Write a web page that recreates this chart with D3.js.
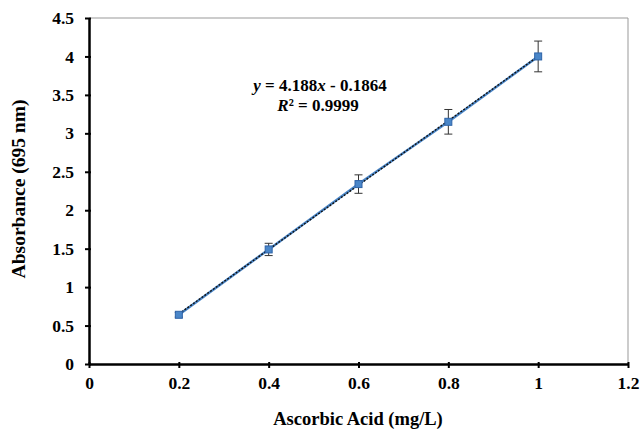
<!DOCTYPE html>
<html><head><meta charset="utf-8">
<script src="https://cdn.jsdelivr.net/npm/d3@7"></script>
<style>body{margin:0;background:#fff;}svg{display:block;font-family:"Liberation Serif","Times New Roman",serif;}</style>
</head><body>
<svg id="c" width="643" height="430"></svg>
<script>
const concentrations = [0.2, 0.4, 0.6, 0.8, 1.0];
const absorbance = [0.64, 1.49, 2.34, 3.15, 4.0];
const errors = [0.03, 0.08, 0.12, 0.16, 0.2];
const xTicks = [0, 0.2, 0.4, 0.6, 0.8, 1, 1.2];
const yTicks = [0, 0.5, 1, 1.5, 2, 2.5, 3, 3.5, 4, 4.5];
const slope = 4.188, intercept = -0.1864;

const svg = d3.select("#c");
const m = {l: 89, r: 15, t: 18, b: 66};
const W = 643, H = 430;
const x = d3.scaleLinear().domain([0, 1.2]).range([m.l, W - m.r]);
const y = d3.scaleLinear().domain([0, 4.5]).range([H - m.b, m.t]);

// border (top/right thin gray)
svg.append("path").attr("d", `M${x(0)},${y(4.5)}H${x(1.2)}V${y(0)}`)
  .attr("fill", "none").attr("stroke", "#999").attr("stroke-width", 1);

const fmt = d => String(d);
const xa = svg.append("g").attr("transform", `translate(0,${y(0)})`)
  .call(d3.axisBottom(x).tickValues(xTicks).tickFormat(fmt).tickSize(4).tickSizeOuter(0));
const ya = svg.append("g").attr("transform", `translate(${x(0)},0)`)
  .call(d3.axisLeft(y).tickValues(yTicks).tickFormat(fmt).tickSize(4).tickSizeOuter(0));
[xa, ya].forEach(a => {
  a.select(".domain").attr("stroke", "#000").attr("stroke-width", 2.5);
  a.selectAll(".tick line").attr("stroke", "#000").attr("stroke-width", 2);
  a.selectAll(".tick text").attr("fill", "#000").style("font-size", "17.5px")
    .style("font-weight", "bold").style("font-family", "Liberation Serif, serif");
});
xa.selectAll(".tick line").attr("y1", -2).attr("y2", 4);
xa.selectAll(".tick text").attr("dy", "1.05em");
ya.selectAll(".tick line").attr("x1", 2);
ya.selectAll(".tick text").attr("x", -15);

// data line
const pts = concentrations.map((c, i) => [c, absorbance[i], errors[i]]);
svg.append("path").datum(pts)
  .attr("d", d3.line().x(d => x(d[0])).y(d => y(d[1])))
  .attr("fill", "none").attr("stroke", "#4a86c8").attr("stroke-width", 2.5);
// trendline
svg.append("line")
  .attr("x1", x(0.2)).attr("y1", y(slope * 0.2 + intercept))
  .attr("x2", x(1.0)).attr("y2", y(slope * 1.0 + intercept))
  .attr("stroke", "#111").attr("stroke-width", 1.4).attr("stroke-dasharray", "2,1.5");

// error bars
const eb = svg.append("g").attr("stroke", "#333").attr("stroke-width", 1);
pts.forEach(d => {
  eb.append("line").attr("x1", x(d[0])).attr("x2", x(d[0])).attr("y1", y(d[1] - d[2])).attr("y2", y(d[1] + d[2]));
  [d[1] - d[2], d[1] + d[2]].forEach(v => eb.append("line")
    .attr("x1", x(d[0]) - 4).attr("x2", x(d[0]) + 4).attr("y1", y(v)).attr("y2", y(v)));
});
// markers
svg.append("g").selectAll("rect").data(pts).join("rect")
  .attr("x", d => x(d[0]) - 3.5).attr("y", d => y(d[1]) - 3.5)
  .attr("width", 7).attr("height", 7)
  .attr("fill", "#4a86c8").attr("stroke", "#2e63a8").attr("stroke-width", 1);

// equation
const eq = svg.append("text").attr("x", 320).attr("y", 91).attr("text-anchor", "middle")
  .style("font-size", "17px").style("font-weight", "bold");
eq.append("tspan").style("font-style", "italic").text("y");
eq.append("tspan").text(" = 4.188");
eq.append("tspan").style("font-style", "italic").text("x");
eq.append("tspan").text(" - 0.1864");
const r2 = svg.append("text").attr("x", 318).attr("y", 111).attr("text-anchor", "middle")
  .style("font-size", "17px").style("font-weight", "bold");
r2.append("tspan").style("font-style", "italic").text("R");
r2.append("tspan").text("² = 0.9999");

// axis titles
svg.append("text").attr("x", 358).attr("y", 425).attr("text-anchor", "middle")
  .style("font-size", "18.5px").style("font-weight", "bold").text("Ascorbic Acid (mg/L)");
svg.append("text").attr("transform", `translate(25,189) rotate(-90)`)
  .attr("text-anchor", "middle").style("font-size", "19.5px").style("font-weight", "bold")
  .text("Absorbance (695 nm)");
</script>
</body></html>
